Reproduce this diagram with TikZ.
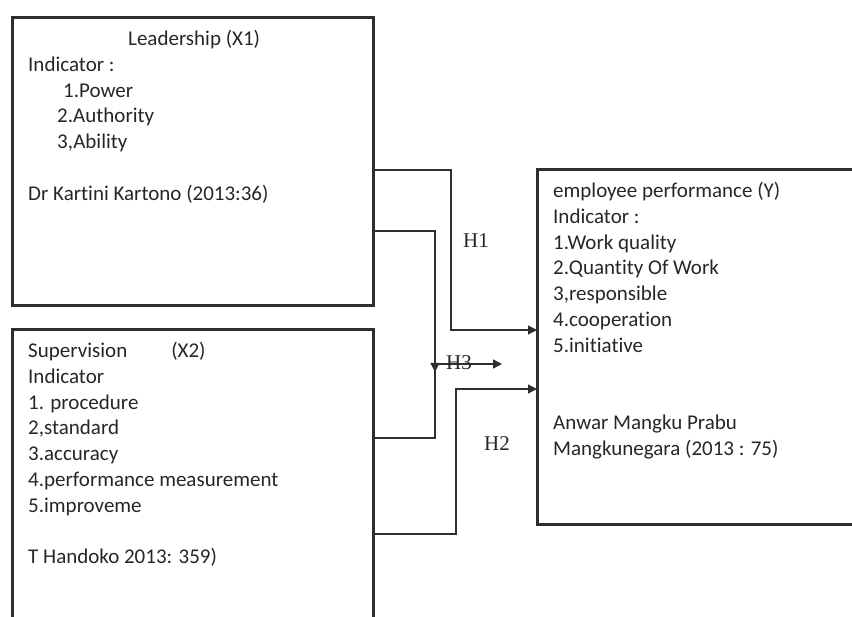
\documentclass[tikz,border=0pt]{standalone}
\usepackage{fontspec}
\setmainfont{Carlito}[Ligatures=NoCommon]
\newfontfamily\hfont{Liberation Serif}
\usetikzlibrary{arrows.meta}
\definecolor{boxline}{RGB}{45,45,50}
\tikzset{>={Triangle[width=9pt,length=9pt]}}
\tikzset{
  varbox/.style={draw=boxline, line width=3pt, rectangle, inner sep=0pt, outer sep=0pt, anchor=north west},
  boxtext/.style={anchor=north west, inner sep=0pt, align=left, text=black!85, font=\fontsize{21}{25.8}\selectfont},
  hyp/.style={inner sep=0pt, text=black!85, font=\hfont\fontsize{21}{24}\selectfont},
  link/.style={draw=boxline, line width=1.3pt}
}

\begin{document}
\begin{tikzpicture}[x=1pt, y=-1pt]
  \clip (0,0) rectangle (852,617);

  % variable boxes
  \node[varbox, minimum width=361pt, minimum height=288pt] (X1) at (12,18) {};
  \node[varbox, minimum width=361pt, minimum height=320pt] (X2) at (12,330) {};
  \node[varbox, minimum width=340pt, minimum height=355pt] (Y) at (537,170) {};

  % box texts
  \node[boxtext] (X1txt) at (28,30) {\hspace*{100pt}Leadership (X1)\\
    Indicator :\\
    \hspace*{35pt}1.Power\\
    \hspace*{29pt}2.Authority\\
    \hspace*{29pt}3,Ability\\[25.8pt]
    Dr Kartini Kartono (2013:36)};
  \node[boxtext] (X2txt) at (28,342) {Supervision\hspace*{44pt}(X2)\\
    Indicator\\
    1. procedure\\
    2,standard\\
    3.accuracy\\
    4.performance measurement\\
    5.improveme\\[25.8pt]
    T Handoko 2013: 359)};
  \node[boxtext] (Ytxt) at (553,182) {employee performance (Y)\\
    Indicator :\\
    1.Work quality\\
    2.Quantity Of Work\\
    3,responsible\\
    4.cooperation\\
    5.initiative\\[51.6pt]
    Anwar Mangku Prabu\\
    Mangkunegara (2013 : 75)};

  % H1
  \coordinate (h1) at (451,330);
  \draw[link,->] (X1.east |- 0,170) -| (h1) -- (Y.west |- h1);
  \node[hyp] (H1) at (476,241) {H1};

  % H3
  \draw[link] (X1.east |- 0,231) -| (435,438) -- (X2.east |- 0,438);
  \coordinate (h3) at (435,364);
  \draw[link,->] (435,340) -- (435,372);
  \draw[link,->] (h3) -- ++(67,0);
  \node[hyp] (H3) at (459,363) {H3};

  % H2
  \coordinate (h2) at (456,389);
  \draw[link,->] (X2.east |- 0,534) -| (h2) -- (Y.west |- h2);
  \node[hyp] (H2) at (497,444) {H2};

\end{tikzpicture}
\end{document}
